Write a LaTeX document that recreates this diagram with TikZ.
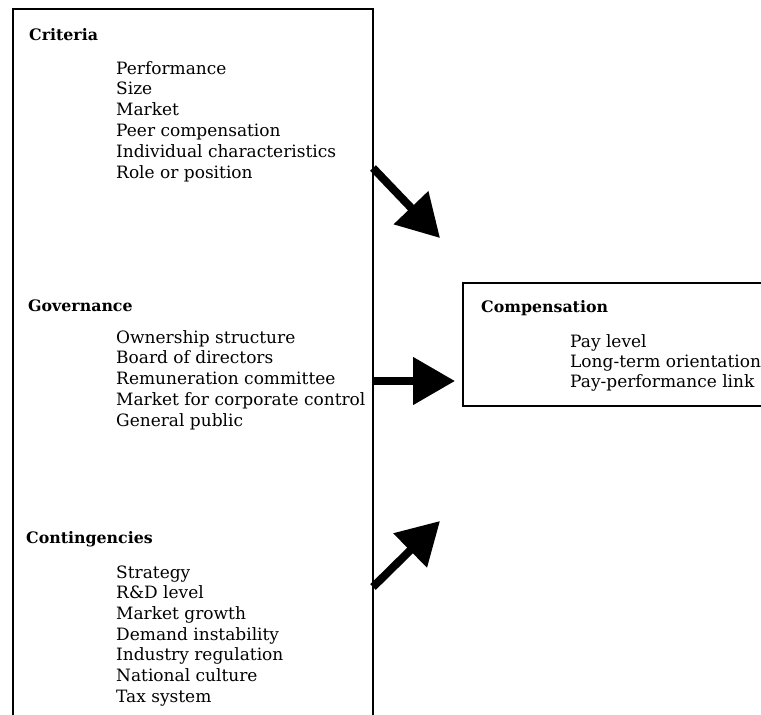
\documentclass[tikz,border=0pt]{standalone}
\usepackage{fontspec}
\setmainfont{DejaVu Serif}
\usetikzlibrary{arrows.meta}
\tikzset{
  x=1pt, y=-1pt,
  box/.style={draw, line width=1.8pt, inner sep=0pt, anchor=north west},
  head/.style={anchor=base west, inner sep=0pt, font=\bfseries\fontsize{15.8}{18}\selectfont},
  item/.style={anchor=base west, inner sep=0pt, font=\fontsize{17}{20.8}\selectfont},
  bigarrow/.style={line width=8pt, -{Triangle[length=42pt,width=46pt]}}
}
\begin{document}
\begin{tikzpicture}
\useasboundingbox (0,0) rectangle (761,715);
\fill[white] (0,0) rectangle (761,715);
% boxes
\node[box, minimum width=360pt, minimum height=740pt] (L) at (12,8) {};
\node[box, minimum width=330pt, minimum height=123pt] (R) at (462,282) {};
% criteria
\node[head] (hcrit) at (29,40) {Criteria};
\foreach \t [count=\i] in {Performance, Size, Market, Peer compensation, Individual characteristics, Role or position}
  \node[item] (crit\i) at (116,{74+(\i-1)*20.8}) {\t};
% governance
\node[head] (hgov) at (28,311) {Governance};
\foreach \t [count=\i] in {Ownership structure, Board of directors, Remuneration committee, Market for corporate control, General public}
  \node[item] (gov\i) at (116,{343+(\i-1)*20.9}) {\t};
% contingencies
\node[head] (hcon) at (26,543) {Contingencies};
\foreach \t [count=\i] in {Strategy, {R\&D level}, Market growth, Demand instability, Industry regulation, National culture, Tax system}
  \node[item] (con\i) at (116,{578+(\i-1)*20.7}) {\t};
% compensation
\node[head] (hcomp) at (481,312) {Compensation};
\foreach \t [count=\i] in {Pay level, Long-term orientation, Pay-performance link}
  \node[item] (comp\i) at (570,{347+(\i-1)*20.3}) {\t};
% arrows
\coordinate (s1) at (373,168);
\coordinate (t1) at (440,238);
\coordinate (s2) at (373,381);
\coordinate (t2) at (455,381);
\coordinate (s3) at (373,587);
\coordinate (t3) at (440,521);
\draw[bigarrow] (s1) -- (t1);
\draw[bigarrow] (s2) -- (t2);
\draw[bigarrow] (s3) -- (t3);
\end{tikzpicture}
\end{document}
